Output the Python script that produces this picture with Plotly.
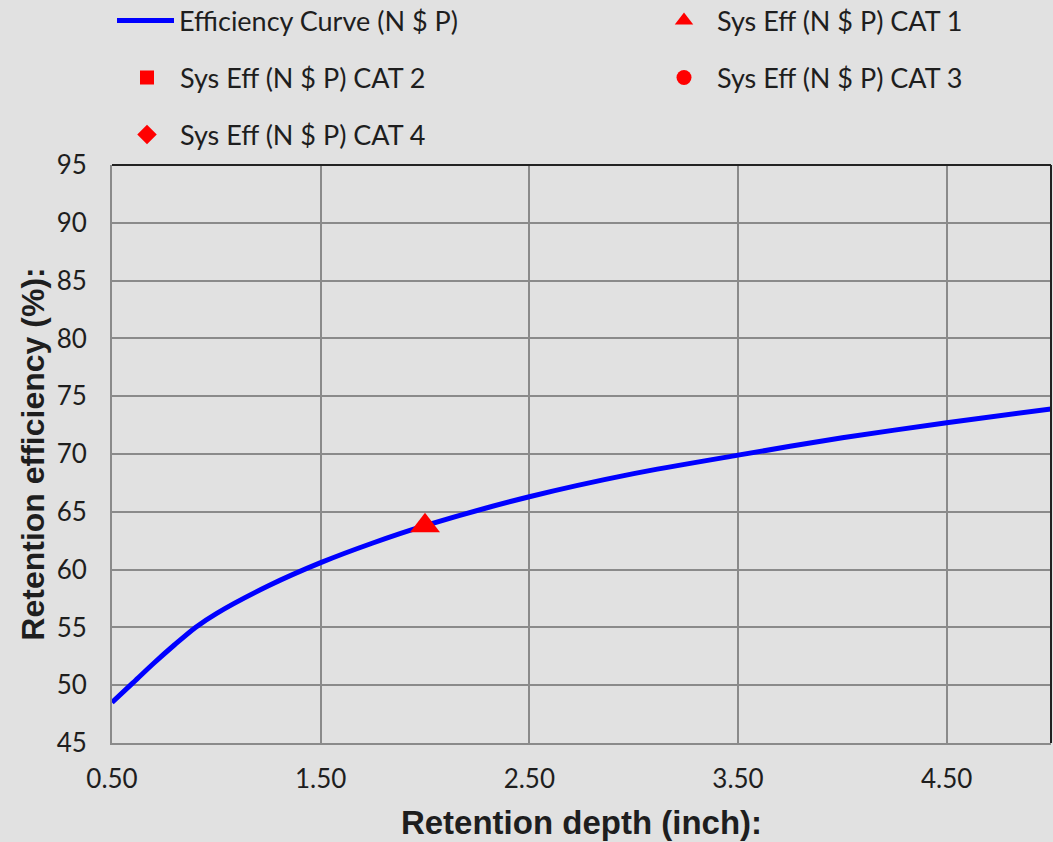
import plotly.graph_objects as go

# Data
depth = [0.5, 0.6, 0.7, 0.8, 0.9, 1.0, 1.25, 1.5, 1.75, 2.0, 2.5, 3.0, 3.5, 4.0, 4.5, 5.0]
efficiency = [48.5, 50.2, 51.9, 53.5, 55.0, 56.2, 58.6, 60.6, 62.3, 63.8, 66.3, 68.3, 69.9, 71.4, 72.7, 73.9]
cat1_x = [2.0]
cat1_y = [63.8]
cat2_x, cat2_y = [None], [None]
cat3_x, cat3_y = [None], [None]
cat4_x, cat4_y = [None], [None]

W, H = 1053, 842
ML, MR, MT, MB = 112, 2, 165, 99
PW, PH = W - ML - MR, H - MT - MB
BG = "#e1e1e1"
TXT = "#1e1e1e"
FONT = "Lato"
TITLE_FONT = "Liberation Sans"

fig = go.Figure()
fig.add_trace(go.Scatter(x=depth, y=efficiency, mode="lines", name="Efficiency Curve (N $ P)",
                         line=dict(color="#0000ff", width=5, shape="spline", smoothing=0.8),
                         legend="legend", showlegend=True))
fig.add_trace(go.Scatter(x=cat1_x, y=cat1_y, mode="markers", name="Sys Eff (N $ P) CAT 1",
                         marker=dict(symbol="triangle-up", color="#ff0000", size=26), legend="legend2"))
fig.add_trace(go.Scatter(x=cat2_x, y=cat2_y, mode="markers", name="Sys Eff (N $ P) CAT 2",
                         marker=dict(symbol="square", color="#ff0000", size=14), legend="legend3"))
fig.add_trace(go.Scatter(x=cat3_x, y=cat3_y, mode="markers", name="Sys Eff (N $ P) CAT 3",
                         marker=dict(symbol="circle", color="#ff0000", size=15), legend="legend4"))
fig.add_trace(go.Scatter(x=cat4_x, y=cat4_y, mode="markers", name="Sys Eff (N $ P) CAT 4",
                         marker=dict(symbol="diamond", color="#ff0000", size=15), legend="legend5"))

def leg(px, py, iw=30):
    return dict(x=(px - ML) / PW, y=(H - MB - py) / PH, xref="paper", yref="paper",
                xanchor="left", yanchor="middle", bgcolor="rgba(0,0,0,0)",
                font=dict(family=FONT, size=27, color=TXT), itemsizing="trace",
                itemwidth=iw, visible=True)

fig.update_layout(
    width=W, height=H,
    paper_bgcolor=BG, plot_bgcolor=BG,
    showlegend=True,
    margin=dict(l=ML, r=MR, t=MT, b=MB, autoexpand=False),
    font=dict(family=FONT, color=TXT),
    legend=leg(112, 21, 57),
    legend2=leg(651, 21, 56),
    legend3=leg(114, 78, 56),
    legend4=leg(651, 78, 56),
    legend5=leg(114, 135, 56),
    xaxis=dict(range=[0.5, 5.0], tick0=0.5, dtick=1, tickformat=".2f",
               showgrid=True, gridcolor="#8a8a8a", gridwidth=2,
               showline=True, linecolor="#8a8a8a", linewidth=2,
               ticks="", ticklabelstandoff=12, zeroline=False, automargin=False,
               tickfont=dict(family=FONT, size=26, color=TXT),
               title=dict(text="Retention depth (inch):", standoff=18,
                          font=dict(family=TITLE_FONT, size=33, color=TXT, weight="bold"))),
    yaxis=dict(range=[45, 95], tick0=45, dtick=5,
               showgrid=True, gridcolor="#8a8a8a", gridwidth=2,
               showline=True, linecolor="#8a8a8a", linewidth=2,
               ticks="", ticklabelstandoff=18, zeroline=False, automargin=False,
               tickfont=dict(family=FONT, size=26, color=TXT),
               title=dict(text="Retention efficiency (%):", standoff=2,
                          font=dict(family=TITLE_FONT, size=32, color=TXT, weight="bold"))),
    shapes=[
        dict(type="line", xref="paper", yref="paper", x0=0, x1=1, y0=1, y1=1,
             line=dict(color="#222222", width=2)),
        dict(type="line", xref="paper", yref="paper", x0=1, x1=1, y0=0, y1=1,
             line=dict(color="#222222", width=2)),
    ],
)

fig.write_html("out.html")
